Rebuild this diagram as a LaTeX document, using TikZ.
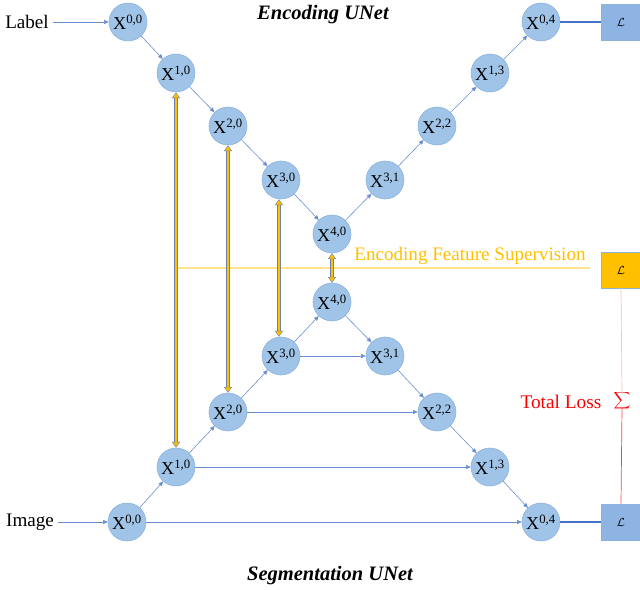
\documentclass[tikz,border=0pt]{standalone}
\usepackage{fontspec}
\setmainfont{Liberation Serif}
\usetikzlibrary{arrows.meta}
\definecolor{nodefill}{RGB}{160,196,232}
\definecolor{nodeedge}{RGB}{140,178,222}
\definecolor{arrowblue}{RGB}{68,114,196}
\definecolor{lossfill}{RGB}{142,180,227}
\definecolor{gold}{RGB}{255,192,0}
\definecolor{shaftedge}{RGB}{110,130,170}
\newcommand{\xn}[1]{X\textsuperscript{#1}}
\begin{document}
\begin{tikzpicture}[x=0.03cm,y=-0.03cm,
  unode/.style={circle,fill=nodefill,draw=nodeedge,line width=0.5pt,minimum size=38*0.03cm,inner sep=0pt,font=\fontsize{15.5}{15.5}\selectfont},
  lossbox/.style={rectangle,fill=lossfill,draw=nodeedge,line width=0.5pt,minimum width=39*0.03cm,minimum height=36*0.03cm,inner sep=0pt},
  flow/.style={draw=arrowblue!80,line width=0.5pt,-{Triangle[length=4pt,width=3.5pt]}},
  feat/.style={draw=shaftedge,double=gold,double distance=2.2pt,line width=0.6pt,
     {Triangle[length=5pt,width=7pt,fill=gold,color=shaftedge,line width=0.4pt]}-{Triangle[length=5pt,width=7pt,fill=gold,color=shaftedge,line width=0.4pt]}},
  txt/.style={font=\fontsize{16.3}{17}\selectfont},
  ttl/.style={font=\fontsize{17.5}{18}\selectfont\bfseries\itshape}
]
\useasboundingbox (0,0) rectangle (640,590);
% encoding UNet
\node[unode] (a00) at (128,22) {\xn{0,0}};
\node[unode] (a10) at (176,73) {\xn{1,0}};
\node[unode] (a20) at (228,126) {\xn{2,0}};
\node[unode] (a30) at (281,180) {\xn{3,0}};
\node[unode] (a40) at (332,234) {\xn{4,0}};
\node[unode] (a31) at (385,180) {\xn{3,1}};
\node[unode] (a22) at (437,126) {\xn{2,2}};
\node[unode] (a13) at (490,73) {\xn{1,3}};
\node[unode] (a04) at (541,22) {\xn{0,4}};
\node[lossbox] (la) at (621,22) {$\mathcal{L}$};
\node[txt] (lab) at (27,22) {Label};
\node[ttl] (t1) at (323,15) {Encoding UNet};
% segmentation UNet
\node[unode] (b00) at (127,522) {\xn{0,0}};
\node[unode] (b10) at (176,467) {\xn{1,0}};
\node[unode] (b20) at (228,412) {\xn{2,0}};
\node[unode] (b30) at (281,356) {\xn{3,0}};
\node[unode] (b40) at (332,302) {\xn{4,0}};
\node[unode] (b31) at (385,356) {\xn{3,1}};
\node[unode] (b22) at (437,412) {\xn{2,2}};
\node[unode] (b13) at (490,467) {\xn{1,3}};
\node[unode] (b04) at (541,522) {\xn{0,4}};
\node[lossbox] (lb) at (621,522) {$\mathcal{L}$};
\node[txt] (img) at (30,522) {Image};
\node[ttl] (t2) at (330,576) {Segmentation UNet};
% middle
\node[lossbox,fill=gold] (lc) at (621,270) {$\mathcal{L}$};
\node[txt,text=gold] (efs) at (470,256) {Encoding Feature Supervision};
\node[txt,text=red,font=\fontsize{16.5}{17}\selectfont] (tl) at (561,402) {Total Loss};
\node[text=red,font=\fontsize{13}{13}\selectfont,inner sep=1pt] (sig) at (622,401) {$\displaystyle\sum$};
\coordinate (ys) at (178,268);
\coordinate (ye) at (590,268);
\draw[gold!45,line width=1pt] (ys) -- (ye);
\draw[red!25,line width=0.6pt] (lc.south) -- ([yshift=-4*0.03cm]sig.north);
\draw[red!75,line width=0.6pt] ([yshift=4*0.03cm]sig.south) -- (lb.north);
% encoding flows
\draw[flow] (lab) -- (a00);
\draw[flow] (a00) -- (a10);
\draw[flow] (a10) -- (a20);
\draw[flow] (a20) -- (a30);
\draw[flow] (a30) -- (a40);
\draw[flow] (a40) -- (a31);
\draw[flow] (a31) -- (a22);
\draw[flow] (a22) -- (a13);
\draw[flow] (a13) -- (a04);
\draw[arrowblue,line width=1.1pt] (a04) -- (la);
% segmentation flows
\draw[flow] (img) -- (b00);
\draw[flow] (b00) -- (b10);
\draw[flow] (b10) -- (b20);
\draw[flow] (b20) -- (b30);
\draw[flow] (b30) -- (b40);
\draw[flow] (b40) -- (b31);
\draw[flow] (b31) -- (b22);
\draw[flow] (b22) -- (b13);
\draw[flow] (b13) -- (b04);
\draw[flow] (b00) -- (b04);
\draw[flow] (b10) -- (b13);
\draw[flow] (b20) -- (b22);
\draw[flow] (b30) -- (b31);
\draw[arrowblue,line width=1.1pt] (b04) -- (lb);
% feature supervision
\draw[feat] (a10) -- (b10);
\draw[feat] (a20) -- (b20);
\draw[feat] ([xshift=-2*0.03cm]a30.south) -- ([xshift=-2*0.03cm]b30.north);
\draw[feat] (a40) -- (b40);
\end{tikzpicture}
\end{document}
